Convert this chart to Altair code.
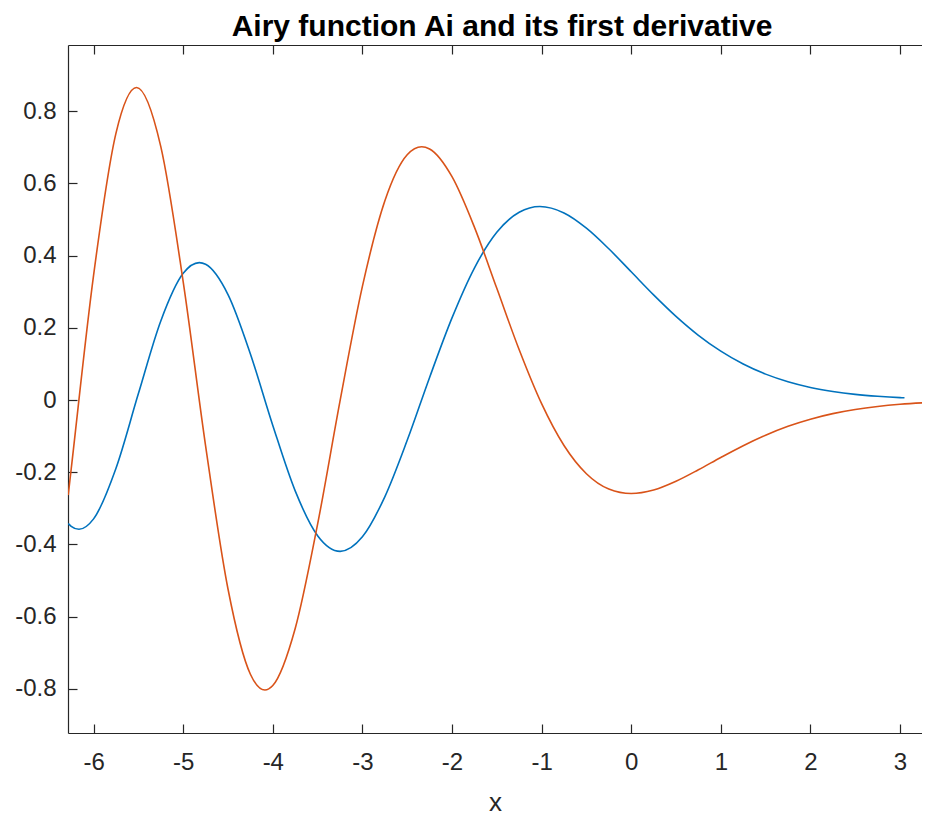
import altair as alt
import pandas as pd

# Airy function Ai(x)
ai_x = [-6.2832, -6.25, -6.1633, -6.0, -5.75, -5.5, -5.25, -5.0, -4.8201, -4.75,
        -4.5, -4.25, -4.0, -3.75, -3.5, -3.2482, -3.0, -2.75, -2.5, -2.25,
        -2.0, -1.75, -1.5, -1.25, -1.0188, -0.75, -0.5, -0.25, 0.0, 0.25,
        0.5, 0.75, 1.0, 1.25, 1.5, 1.75, 2.0, 2.25, 2.5, 2.75, 3.0, 3.05]
ai_y = [-0.3421, -0.3496, -0.3579, -0.3291, -0.1888, 0.0178, 0.2190, 0.3508, 0.3804, 0.3759,
        0.2921, 0.1277, -0.0703, -0.2517, -0.3756, -0.4190, -0.3788, -0.2680, -0.1116, 0.0626,
        0.2274, 0.3655, 0.4643, 0.5200, 0.5357, 0.5178, 0.4757, 0.4187, 0.3550, 0.2912,
        0.2317, 0.1793, 0.1353, 0.0996, 0.0717, 0.0507, 0.0349, 0.0237, 0.0157, 0.0103, 0.0066, 0.0061]

# first derivative Ai'(x)
dai_x = [-6.2832, -6.25, -6.0, -5.75, -5.5206, -5.25, -5.0, -4.75, -4.5, -4.25,
         -4.0879, -4.0, -3.75, -3.5, -3.25, -3.0, -2.75, -2.5, -2.3381, -2.25,
         -2.0, -1.75, -1.5, -1.25, -1.0, -0.75, -0.5, -0.25, 0.0, 0.25,
         0.5, 0.75, 1.0, 1.25, 1.5, 1.75, 2.0, 2.25, 2.5, 2.75, 3.0, 3.25, 3.5]
dai_y = [-0.2631, -0.1911, 0.3459, 0.7391, 0.8652, 0.7016, 0.3272, -0.1270, -0.5233, -0.7593,
         -0.8031, -0.7906, -0.6327, -0.3438, -0.0029, 0.3146, 0.5511, 0.6791, 0.7012, 0.6950,
         0.6183, 0.4787, 0.3092, 0.1391, -0.0102, -0.1260, -0.2041, -0.2464, -0.2588, -0.2491,
         -0.2249, -0.1932, -0.1591, -0.1265, -0.0974, -0.0727, -0.0531, -0.0377, -0.0263, -0.0179,
         -0.0119, -0.0078, -0.0050]

x_ticks = [-6, -5, -4, -3, -2, -1, 0, 1, 2, 3]
y_ticks = [-0.8, -0.6, -0.4, -0.2, 0.0, 0.2, 0.4, 0.6, 0.8]
series_names = ["Ai", "dAi"]
series_colors = ["#0072BD", "#D95319"]

df = pd.concat([
    pd.DataFrame({"x": ai_x, "y": ai_y, "series": "Ai", "order": range(len(ai_x))}),
    pd.DataFrame({"x": dai_x, "y": dai_y, "series": "dAi", "order": range(len(dai_x))}),
])

W, H = 854, 688
FONT = "Liberation Sans"
AX = "#262626"
xscale = alt.Scale(domain=[-6.2857, 3.2455], nice=False, zero=False)
yscale = alt.Scale(domain=[-0.922, 0.983], nice=False, zero=False)

base = alt.Chart(df)

lines = base.mark_line(interpolate="monotone", clip=True, strokeWidth=1.6).encode(
    x=alt.X("x:Q", scale=xscale, axis=alt.Axis(
        orient="bottom", values=x_ticks, labelExpr="'' + datum.value",
        ticks=False, tickSize=0, grid=False, domain=True, domainColor=AX, domainWidth=1.2,
        labelFont=FONT, labelFontSize=24, labelColor=AX, labelPadding=17,
        title="x", titleFont=FONT, titleFontSize=26, titleFontWeight="normal",
        titleColor=AX, titlePadding=15)),
    y=alt.Y("y:Q", scale=yscale, axis=alt.Axis(
        orient="left", values=y_ticks, labelExpr="'' + round(datum.value * 10) / 10",
        ticks=False, tickSize=0, grid=False, domain=True, domainColor=AX, domainWidth=1.2,
        labelFont=FONT, labelFontSize=24, labelColor=AX, labelPadding=12, title=None)),
    color=alt.Color("series:N", scale=alt.Scale(domain=series_names, range=series_colors), legend=None),
    order="order:Q",
)

# inward ticks on bottom and left edges
ticks_bl = base.mark_line(strokeOpacity=0).encode(
    x=alt.X("x:Q", scale=xscale, axis=alt.Axis(
        orient="top", offset=-H, values=x_ticks, labels=False, domain=False,
        tickSize=9, tickColor=AX, tickWidth=1.2, grid=False, title=None)),
    y=alt.Y("y:Q", scale=yscale, axis=alt.Axis(
        orient="right", offset=-W, values=y_ticks, labels=False, domain=False,
        tickSize=9, tickColor=AX, tickWidth=1.2, grid=False, title=None)),
    detail="series:N",
)

# top border with inward ticks
ticks_top = base.mark_line(strokeOpacity=0).encode(
    x=alt.X("x:Q", scale=xscale, axis=alt.Axis(
        orient="bottom", offset=-H, values=x_ticks, labels=False, domain=True,
        domainColor=AX, domainWidth=1.2,
        tickSize=9, tickColor=AX, tickWidth=1.2, grid=False, title=None)),
    y=alt.Y("y:Q", scale=yscale, axis=None),
    detail="series:N",
)

chart = alt.layer(lines, ticks_bl, ticks_top).resolve_axis(
    x="independent", y="independent"
).properties(
    width=W, height=H,
    autosize=alt.AutoSizeParams(type="none"),
    padding={"left": 60, "top": 37, "right": 0, "bottom": 85},
    title=alt.TitleParams(
        "Airy function Ai and its first derivative", font=FONT, fontSize=30,
        fontWeight="bold", color="#000000", anchor="middle", dx=7,
        baseline="alphabetic", offset=14, dy=36),
).configure_view(stroke=None)

chart.save("out.html", embed_options={"renderer": "svg", "actions": False})
